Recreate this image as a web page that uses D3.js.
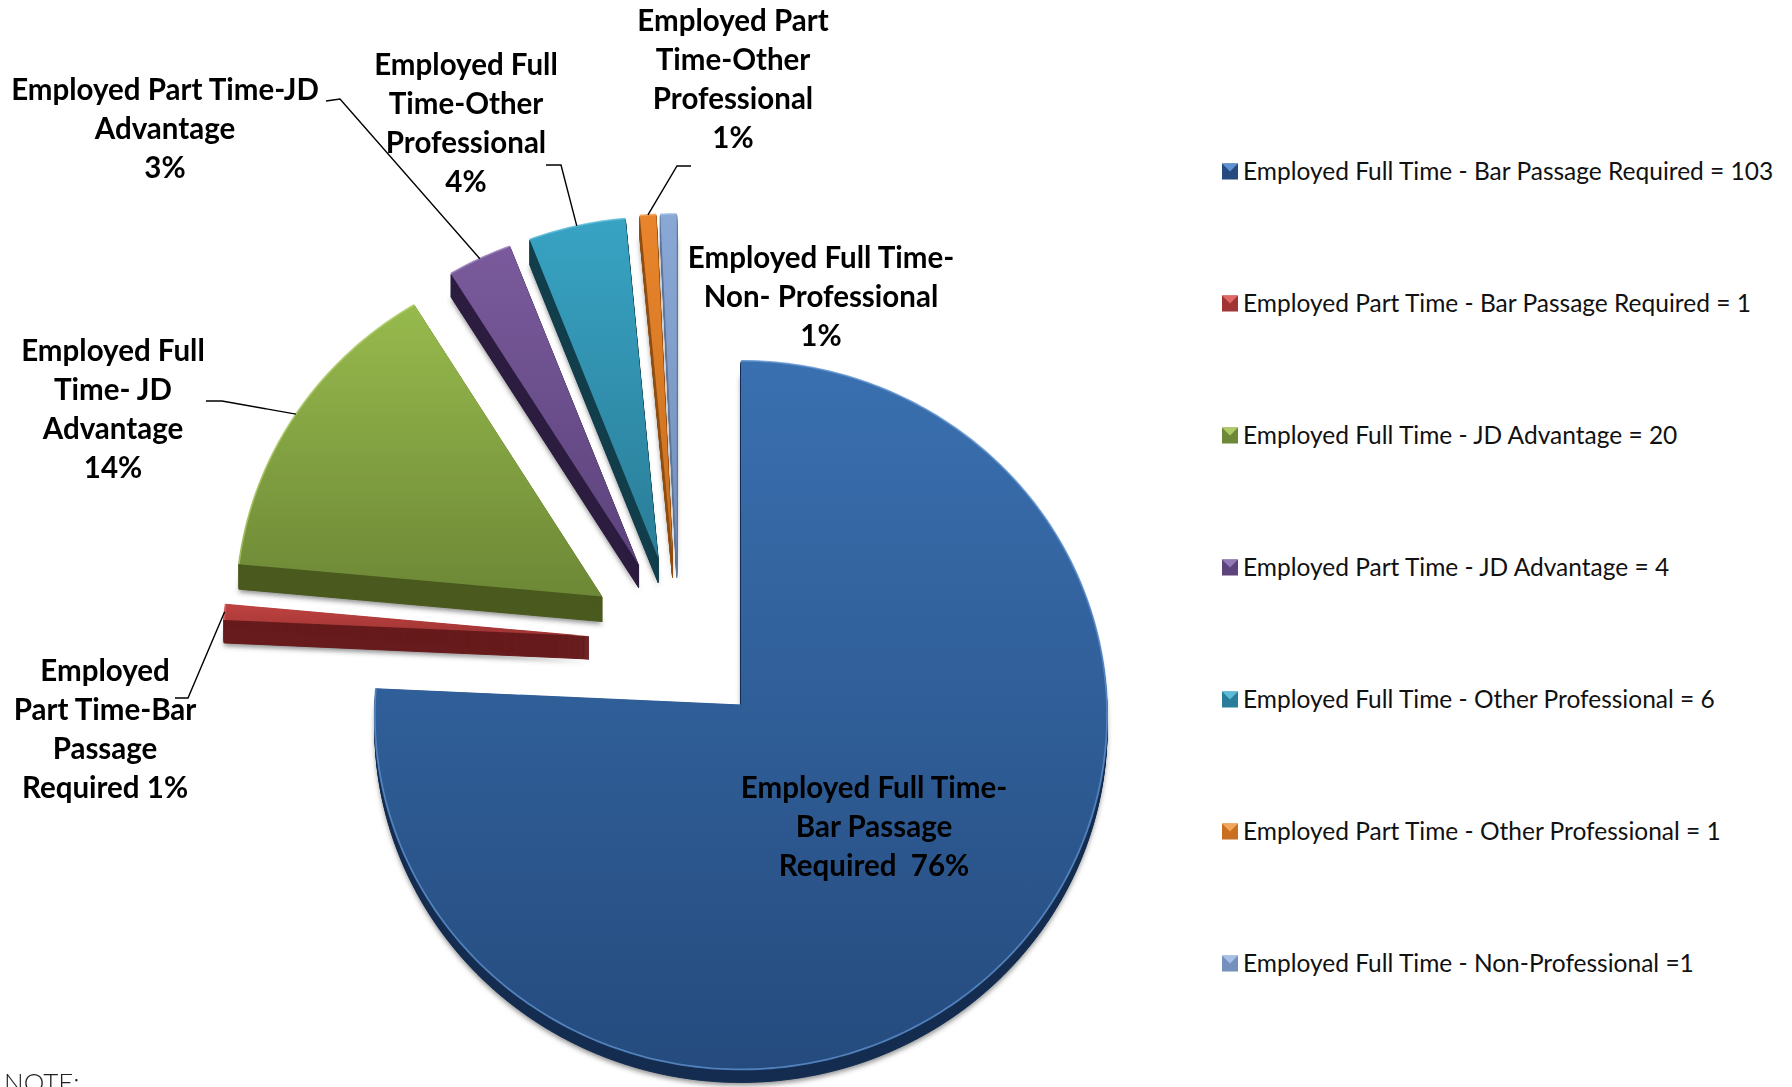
<!DOCTYPE html>
<html>
<head>
<meta charset="utf-8">
<script src="https://cdn.jsdelivr.net/npm/d3@7"></script>
<style>
  html, body { margin: 0; padding: 0; background: #fff; overflow: hidden; }
  svg { display: block; }
  .slice-label { font: 700 29.5px Lato, sans-serif; fill: #000; text-anchor: middle; }
  .legend-label { font: 400 24.5px Lato, sans-serif; fill: #111; }
  .note { font: 300 26px Lato, sans-serif; fill: #222; }
</style>
</head>
<body>
<div id="chart"></div>
<script>
const categories = [
  "Employed Full Time - Bar Passage Required",
  "Employed Part Time - Bar Passage Required",
  "Employed Full Time - JD Advantage",
  "Employed Part Time - JD Advantage",
  "Employed Full Time - Other Professional",
  "Employed Part Time - Other Professional",
  "Employed Full Time - Non-Professional",
];
const values = [103, 1, 20, 4, 6, 1, 1];
const legendLabels = [
  "Employed Full Time - Bar Passage Required = 103",
  "Employed Part Time - Bar Passage Required = 1",
  "Employed Full Time - JD Advantage = 20",
  "Employed Part Time - JD Advantage = 4",
  "Employed Full Time - Other Professional = 6",
  "Employed Part Time - Other Professional = 1",
  "Employed Full Time - Non-Professional =1",
];
const sliceLabels = [
  ["Employed Full Time-", "Bar Passage", "Required  76%"],
  ["Employed", "Part Time-Bar", "Passage", "Required 1%"],
  ["Employed Full", "Time- JD", "Advantage", "14%"],
  ["Employed Part Time-JD", "Advantage", "3%"],
  ["Employed Full", "Time-Other", "Professional", "4%"],
  ["Employed Part", "Time-Other", "Professional", "1%"],
  ["Employed Full Time-", "Non- Professional", "1%"],
];

// colours per slice: top of face, bottom of face, wall, bevel
const faceTop = ["#3a70b0", "#bf4341", "#97ba4d", "#7a5a9c", "#38a3c3", "#e9852c", "#8aa8d6"];
const faceBottom = ["#254b7e", "#a03434", "#6d8836", "#5c437c", "#2a7d98", "#c8701f", "#7490bd"];
const wallColors = ["#132c50", "#671b1c", "#4a5a1e", "#2c1d40", "#123e4c", "#8f4d12", "#5f7599"];
const bevelColors = ["#5f92cf", "#e06a66", "#aecb68", "#9379b5", "#5bbcd8", "#f3a55c", "#a8c0e4"];

// layout
const width = 1792;
const height = 1087;
const center = { x: 678.8, y: 642 };
const explode = 90;
const explodeTilt = 0.96;
const radiusX = 366;
const radiiY = [354, 350, 352, 351, 351, 352, 352];
const perspective = 0.03;
const depths = [13, 23, 25, 23, 25, 22, 22];

const labelCenters = [
  [874, 788], [105, 671], [113, 351], [165, 90], [466, 65], [733, 21], [821, 258],
];
const labelLineHeight = 39;
const leaderElbows = [
  null,
  [[175, 698], [188, 698]],
  [[206, 401], [222, 401]],
  [[326, 101], [340, 99]],
  [[546, 165], [561, 165]],
  [[691, 166], [677, 166]],
  null,
];

const svg = d3.select("#chart").append("svg")
  .attr("width", width)
  .attr("height", height)
  .attr("viewBox", [0, 0, width, height]);

const defs = svg.append("defs");
defs.append("filter")
  .attr("id", "blur")
  .attr("x", "-20%").attr("y", "-20%").attr("width", "140%").attr("height", "140%")
  .append("feGaussianBlur")
  .attr("stdDeviation", 2.6);

categories.forEach((c, i) => {
  const grad = defs.append("linearGradient")
    .attr("id", `face-${i}`)
    .attr("x1", 0).attr("y1", 0).attr("x2", 0).attr("y2", 1);
  grad.append("stop").attr("offset", "0%").attr("stop-color", faceTop[i]);
  grad.append("stop").attr("offset", "100%").attr("stop-color", faceBottom[i]);
});

const arcs = d3.pie().sort(null).value((d) => d)(values);

const worldX = d3.scaleLinear().domain([-1, 1]).range([-radiusX, radiusX]);

// point on the tilted pie, r is 0..1 from the slice apex
function project(apex, angle, r, radiusY) {
  const wx = r * Math.sin(angle);
  const wy = -r * Math.cos(angle);
  const s = 1 / (1 - perspective * wy);
  return [apex[0] + worldX(wx * s), apex[1] + wy * s * radiusY];
}

const line = d3.line();

const slices = arcs.map((d, i) => {
  const mid = (d.startAngle + d.endAngle) / 2;
  const apex = [
    center.x + explode * Math.sin(mid),
    center.y - explode * explodeTilt * Math.cos(mid),
  ];
  const steps = Math.max(4, Math.ceil((d.endAngle - d.startAngle) * 60));
  const angle = d3.scaleLinear().domain([0, steps]).range([d.startAngle, d.endAngle]);
  const rim = d3.range(steps + 1).map((k) => project(apex, angle(k), 1, radiiY[i]));
  return {
    apex,
    rim,
    mid,
    outer: project(apex, mid, 1, radiiY[i]),
    face: line([apex, ...rim]) + "Z",
    edge: line(rim),
  };
});

const gShadow = svg.append("g").attr("class", "shadows").attr("filter", "url(#blur)");
const gWalls = svg.append("g").attr("class", "walls");
const gFaces = svg.append("g").attr("class", "faces");
const gLeaders = svg.append("g").attr("class", "leaders");
const gLabels = svg.append("g").attr("class", "labels");
const gLegend = svg.append("g").attr("class", "legend");

slices.forEach((s, i) => {
  gShadow.append("path")
    .attr("d", s.face)
    .attr("transform", `translate(0,${depths[i] + 3})`)
    .attr("fill", "#555")
    .attr("fill-opacity", 0.65);

  // stroke keeps the wall solid at the thin tip of a slice
  gWalls.selectAll(`.wall-${i}`)
    .data(d3.range(1, depths[i] + 1))
    .join("path")
    .attr("class", `wall-${i}`)
    .attr("d", s.face)
    .attr("transform", (k) => `translate(0,${k})`)
    .attr("fill", wallColors[i])
    .attr("stroke", wallColors[i])
    .attr("stroke-width", 1);

  gFaces.append("path")
    .attr("d", s.face)
    .attr("fill", `url(#face-${i})`);

  gFaces.append("path")
    .attr("d", s.edge)
    .attr("fill", "none")
    .attr("stroke", bevelColors[i])
    .attr("stroke-width", 1.8)
    .attr("stroke-opacity", 0.8);

  if (leaderElbows[i]) {
    gLeaders.append("path")
      .attr("d", line([...leaderElbows[i], s.outer]))
      .attr("fill", "none")
      .attr("stroke", "#000")
      .attr("stroke-width", 1.4);
  }

  gLabels.append("text")
    .attr("class", "slice-label")
    .attr("xml:space", "preserve")
    .style("white-space", "pre")
    .selectAll("tspan")
    .data(sliceLabels[i])
    .join("tspan")
    .attr("x", labelCenters[i][0])
    .attr("y", (d, k) => labelCenters[i][1] + k * labelLineHeight)
    .attr("dy", "0.35em")
    .text((d) => d);
});

// legend
const legendY = d3.scalePoint().domain(categories).range([171.5, 963.5]);
const markerSize = 16;
const legendItem = gLegend.selectAll("g")
  .data(categories)
  .join("g")
  .attr("transform", (d) => `translate(1222,${legendY(d)})`);

legendItem.append("rect")
  .attr("y", -markerSize / 2)
  .attr("width", markerSize)
  .attr("height", markerSize)
  .attr("fill", (d, i) => faceBottom[i]);

legendItem.append("path")
  .attr("d", line([
    [0, -markerSize / 2],
    [markerSize, -markerSize / 2],
    [markerSize / 2, 0],
  ]) + "Z")
  .attr("fill", (d, i) => bevelColors[i]);

legendItem.append("text")
  .attr("class", "legend-label")
  .attr("x", 21)
  .attr("dy", "0.35em")
  .text((d, i) => legendLabels[i]);

svg.append("text")
  .attr("class", "note")
  .attr("x", 4)
  .attr("y", 1092)
  .text("NOTE:");
</script>
</body>
</html>
